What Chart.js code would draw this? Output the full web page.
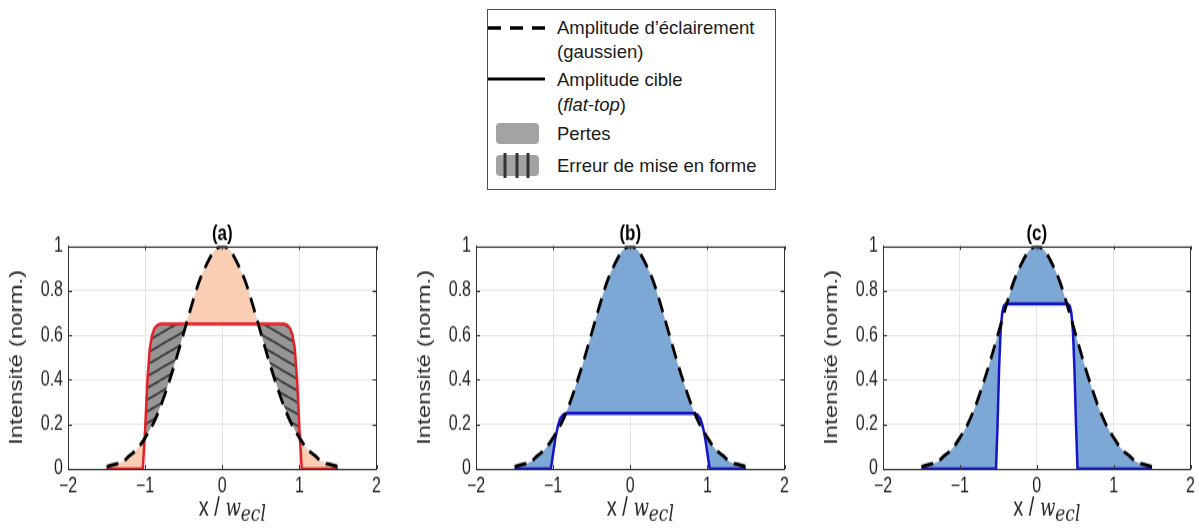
<!DOCTYPE html>
<html lang="fr">
<head>
<meta charset="utf-8">
<script src="https://cdn.jsdelivr.net/npm/chart.js@4.4.1/dist/chart.umd.min.js"></script>
<style>
  html, body { margin: 0; padding: 0; background: #fff; }
  body { width: 1199px; height: 529px; position: relative; overflow: hidden; font-family: Arial, "Liberation Sans", sans-serif; }
  .panel { position: absolute; top: 205px; height: 249px; transform: scaleY(1.3); transform-origin: 0 0; }
  .panel canvas { display: block; }
  #legend { position: absolute; left: 487px; top: 9px; width: 287px; height: 179px; border: 1px solid #4d4d4d; background: #fff; }
  #legend svg { position: absolute; left: 0; top: 0; }
  .lg-text { position: absolute; left: 69px; font-size: 18.5px; line-height: 24px; color: #1a1a1a; white-space: nowrap; }
</style>
</head>
<body>

<div id="legend">
  <svg width="287" height="179">
    <line x1="0" y1="18" x2="57" y2="18" stroke="#000" stroke-width="3.5" stroke-dasharray="13 9"/>
    <line x1="0" y1="69" x2="57" y2="69" stroke="#000" stroke-width="3"/>
    <rect x="8" y="113" width="43" height="21" rx="4" fill="#a3a3a3"/>
    <rect x="8" y="145" width="43" height="21" rx="4" fill="#a3a3a3"/>
    <line x1="17" y1="143" x2="17" y2="168" stroke="#333" stroke-width="3"/>
    <line x1="29" y1="143" x2="29" y2="168" stroke="#333" stroke-width="3"/>
    <line x1="40" y1="143" x2="40" y2="168" stroke="#333" stroke-width="3"/>
  </svg>
  <div class="lg-text" style="top:6px">Amplitude d’éclairement</div>
  <div class="lg-text" style="top:30px">(gaussien)</div>
  <div class="lg-text" style="top:58px">Amplitude cible</div>
  <div class="lg-text" style="top:83px">(<i>flat-top</i>)</div>
  <div class="lg-text" style="top:112px">Pertes</div>
  <div class="lg-text" style="top:144px">Erreur de mise en forme</div>
</div>

<div class="panel" style="left:0px;width:385px"><canvas id="chartA" width="385" height="249"></canvas></div>
<div class="panel" style="left:408px;width:385px"><canvas id="chartB" width="385" height="249"></canvas></div>
<div class="panel" style="left:815px;width:384px"><canvas id="chartC" width="384" height="249"></canvas></div>

<script>
// illumination amplitude (gaussian)
const gaussX = [-1.5, -1.4, -1.3, -1.2, -1.1, -1.0, -0.9, -0.8, -0.7, -0.6, -0.5, -0.4, -0.3, -0.2, -0.1,
  0, 0.1, 0.2, 0.3, 0.4, 0.5, 0.6, 0.7, 0.8, 0.9, 1.0, 1.1, 1.2, 1.3, 1.4, 1.5];
const gaussY = [0.01, 0.02, 0.03, 0.06, 0.09, 0.14, 0.20, 0.28, 0.38, 0.49, 0.61, 0.73, 0.84, 0.92, 0.98,
  1.00, 0.98, 0.92, 0.84, 0.73, 0.61, 0.49, 0.38, 0.28, 0.20, 0.14, 0.09, 0.06, 0.03, 0.02, 0.01];

// target amplitudes (flat-top)
const flatAX = [-1.5, -1.03, -1.0, -0.97, -0.94, -0.91, -0.88, -0.84, -0.8, 0, 0.8, 0.84, 0.88, 0.91, 0.94, 0.97, 1.0, 1.03, 1.5];
const flatAY = [0, 0, 0.18, 0.40, 0.54, 0.60, 0.63, 0.645, 0.65, 0.65, 0.65, 0.645, 0.63, 0.60, 0.54, 0.40, 0.18, 0, 0];

const flatBX = [-1.5, -1.03, -1.0, -0.97, -0.94, -0.91, -0.87, -0.82, 0, 0.82, 0.87, 0.91, 0.94, 0.97, 1.0, 1.03, 1.5];
const flatBY = [0, 0, 0.07, 0.14, 0.19, 0.225, 0.243, 0.25, 0.25, 0.25, 0.243, 0.225, 0.19, 0.14, 0.07, 0, 0];

const flatCX = [-1.5, -0.53, -0.51, -0.49, -0.47, -0.45, -0.43, -0.40, 0, 0.40, 0.43, 0.45, 0.47, 0.49, 0.51, 0.53, 1.5];
const flatCY = [0, 0, 0.2, 0.45, 0.62, 0.70, 0.73, 0.74, 0.74, 0.74, 0.73, 0.70, 0.62, 0.45, 0.2, 0, 0];

const xTickValues = [-2, -1, 0, 1, 2];
const yTickValues = [0, 0.2, 0.4, 0.6, 0.8, 1];
const panelTitles = ["(a)", "(b)", "(c)"];
const yTitle = "Intensité (norm.)";

Chart.defaults.font.family = 'Arial, "Liberation Sans", sans-serif';

const PANEL_H = 249;
const AREA_TOP = 31.5;
const AREA_BOTTOM = 203;

function toPoints(xs, ys) {
  return xs.map((x, i) => ({ x: x, y: ys[i] }));
}

function makeHatch(ctx, rising) {
  const c = document.createElement("canvas");
  c.width = 20;
  c.height = 9;
  const g = c.getContext("2d");
  g.fillStyle = "#969696";
  g.fillRect(0, 0, 20, 9);
  g.strokeStyle = "#3a3a3a";
  g.lineWidth = 1.6;
  [-9, 0, 9].forEach(off => {
    g.beginPath();
    if (rising) {
      g.moveTo(0, 9 + off);
      g.lineTo(20, off);
    } else {
      g.moveTo(0, off);
      g.lineTo(20, 9 + off);
    }
    g.stroke();
  });
  return ctx.createPattern(c, "repeat");
}

const panelDecor = {
  id: "panelDecor",
  afterDraw(chart, args, opts) {
    const ctx = chart.ctx;
    const a = chart.chartArea;
    const sx = chart.scales.x;
    const sy = chart.scales.y;
    ctx.save();

    // inward ticks, like the original
    ctx.strokeStyle = "#333";
    ctx.lineWidth = 1;
    ctx.beginPath();
    xTickValues.forEach(v => {
      const px = Math.round(sx.getPixelForValue(v)) + 0.5;
      ctx.moveTo(px, a.bottom);
      ctx.lineTo(px, a.bottom - 3);
      ctx.moveTo(px, a.top);
      ctx.lineTo(px, a.top + 3);
    });
    yTickValues.forEach(v => {
      const py = Math.round(sy.getPixelForValue(v)) + 0.5;
      ctx.moveTo(a.left, py);
      ctx.lineTo(a.left + 4, py);
      ctx.moveTo(a.right, py);
      ctx.lineTo(a.right - 4, py);
    });
    ctx.stroke();
    ctx.strokeRect(Math.round(a.left) + 0.5, Math.round(a.top) + 0.5,
      Math.round(a.right - a.left) - 1, Math.round(a.bottom - a.top) - 1);

    // panel title
    const cx = (a.left + a.right) / 2;
    ctx.fillStyle = "#000";
    ctx.font = 'bold 17px Arial, "Liberation Sans", sans-serif';
    ctx.textAlign = "center";
    ctx.textBaseline = "middle";
    ctx.fillText(opts.title, cx, a.top - 9);

    // x axis title: x / w_ecl
    const parts = [
      { t: "x / ", font: '20px Arial, "Liberation Sans", sans-serif', dy: 0 },
      { t: "w", font: 'italic 18px "DejaVu Serif", serif', dy: 0 },
      { t: "ecl", font: 'italic 17px "DejaVu Serif", serif', dy: 4 }
    ];
    ctx.textAlign = "left";
    ctx.textBaseline = "alphabetic";
    ctx.fillStyle = "#262626";
    let total = 0;
    parts.forEach(p => { ctx.font = p.font; p.w = ctx.measureText(p.t).width; total += p.w; });
    let x = cx + 10 - total / 2;
    const base = a.bottom + 36;
    parts.forEach(p => {
      ctx.font = p.font;
      ctx.fillText(p.t, x, base + p.dy);
      x += p.w;
    });
    ctx.restore();
  }
};

// hatch: true -> shaping error areas drawn hatched (panel a), false -> plain colour everywhere
function makePanel(canvasId, title, flatX, flatY, lineColor, lossColor, hatch) {
  const canvas = document.getElementById(canvasId);
  const ctx = canvas.getContext("2d");
  const flatPts = toPoints(flatX, flatY);

  const datasets = [
    {
      label: "Amplitude d'éclairement",
      data: toPoints(gaussX, gaussY),
      borderColor: "#000",
      borderWidth: 2.8,
      borderDash: [12, 7],
      pointRadius: 0,
      cubicInterpolationMode: "monotone",
      fill: false
    },
    {
      label: "Amplitude cible",
      data: flatPts,
      borderColor: lineColor,
      borderWidth: 2.5,
      pointRadius: 0,
      tension: 0,
      fill: { target: 0, above: hatch ? "rgba(0,0,0,0)" : lossColor, below: lossColor }
    }
  ];

  if (hatch) {
    // left and right halves carry mirrored hatching
    const halves = [
      { pts: flatPts.filter(p => p.x <= 0), pattern: makeHatch(ctx, true) },
      { pts: flatPts.filter(p => p.x >= 0), pattern: makeHatch(ctx, false) }
    ];
    halves.forEach(h => {
      datasets.push({
        label: "Erreur de mise en forme",
        data: h.pts,
        borderColor: "rgba(0,0,0,0)",
        borderWidth: 0,
        pointRadius: 0,
        tension: 0,
        fill: { target: 0, above: h.pattern, below: "rgba(0,0,0,0)" }
      });
    });
  }

  return new Chart(ctx, {
    type: "line",
    data: { datasets: datasets },
    options: {
      responsive: false,
      animation: false,
      events: [],
      layout: { padding: { top: AREA_TOP, right: 7, left: 0, bottom: 0 } },
      plugins: {
        legend: { display: false },
        tooltip: { enabled: false },
        panelDecor: { title: title }
      },
      scales: {
        x: {
          type: "linear",
          min: -2,
          max: 2,
          afterBuildTicks: s => { s.ticks = xTickValues.map(v => ({ value: v })); },
          afterFit: s => { s.height = PANEL_H - AREA_BOTTOM; },
          ticks: {
            padding: 4,
            color: "#1f1f1f",
            font: { size: 16 },
            maxRotation: 0,
            callback: v => String(v).replace("-", "\u2212")
          },
          grid: { color: "#e4e4e4", drawTicks: false },
          border: { display: true, color: "#333" }
        },
        y: {
          min: 0,
          max: 1,
          afterBuildTicks: s => { s.ticks = yTickValues.map(v => ({ value: v })); },
          afterFit: s => { s.width = 68; },
          ticks: {
            padding: 5,
            color: "#1f1f1f",
            font: { size: 16 },
            callback: v => String(v)
          },
          grid: { color: "#e4e4e4", drawTicks: false },
          border: { display: true, color: "#333" },
          title: {
            display: true,
            text: yTitle,
            color: "#262626",
            font: { size: 18.5 },
            padding: { top: 5.5, bottom: 0 }
          }
        }
      }
    },
    plugins: [panelDecor]
  });
}

const peach = "#f9ceb2";
const blue = "#7da7d4";

makePanel("chartA", panelTitles[0], flatAX, flatAY, "#e3202a", peach, true);
makePanel("chartB", panelTitles[1], flatBX, flatBY, "#1414c8", blue, false);
makePanel("chartC", panelTitles[2], flatCX, flatCY, "#1414c8", blue, false);
</script>
</body>
</html>
